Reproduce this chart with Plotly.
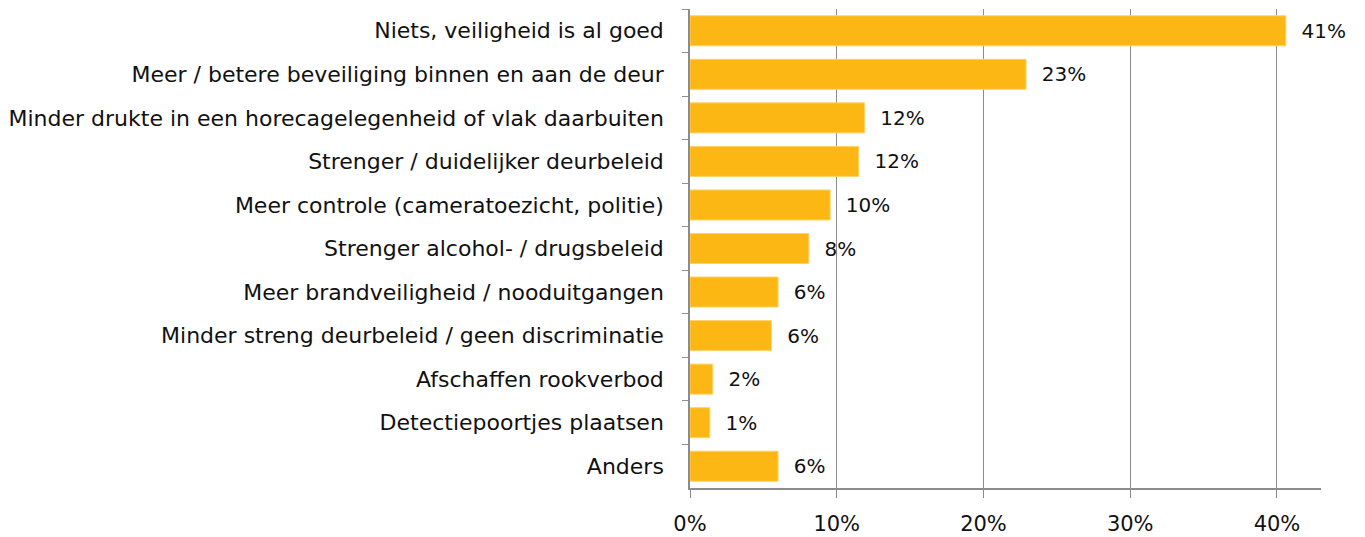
import plotly.graph_objects as go

# Antwoorden (van boven naar beneden) en aandeel respondenten
categories = [
    "Niets, veiligheid is al goed",
    "Meer / betere beveiliging binnen en aan de deur",
    "Minder drukte in een horecagelegenheid of vlak daarbuiten",
    "Strenger / duidelijker deurbeleid",
    "Meer controle (cameratoezicht, politie)",
    "Strenger alcohol- / drugsbeleid",
    "Meer brandveiligheid / nooduitgangen",
    "Minder streng deurbeleid / geen discriminatie",
    "Afschaffen rookverbod",
    "Detectiepoortjes plaatsen",
    "Anders",
]
shares = [0.406, 0.229, 0.119, 0.115, 0.0955, 0.081, 0.060, 0.0555, 0.0155, 0.0135, 0.060]

x_ticks = [0, 0.1, 0.2, 0.3, 0.4]
x_ticklabels = ["0%", "10%", "20%", "30%", "40%"]

FONT = "DejaVu Sans"
BAR_COLOR = "#FDB714"
AXIS_COLOR = "#8C8C8C"
TEXT_COLOR = "#111111"

fig = go.Figure()
fig.add_trace(
    go.Bar(
        x=shares,
        y=categories,
        orientation="h",
        marker=dict(color=BAR_COLOR, line=dict(color="#FFD36B", width=1)),
        texttemplate="\u00a0\u00a0%{x:.0%}",
        textposition="outside",
        constraintext="none",
        cliponaxis=False,
        textfont=dict(family=FONT, size=20, color=TEXT_COLOR),
        showlegend=False,
        hoverinfo="skip",
    )
)

# de pagina heeft 8px body-marge, daarom l/t iets kleiner
fig.update_layout(
    width=1365,
    height=537,
    margin=dict(l=680, r=52, t=1, b=57),
    plot_bgcolor="white",
    paper_bgcolor="white",
    bargap=0.31,
    font=dict(family=FONT, size=20, color=TEXT_COLOR),
)

fig.update_xaxes(
    range=[0, 0.43],
    tickvals=x_ticks,
    ticktext=x_ticklabels,
    showgrid=True,
    gridcolor=AXIS_COLOR,
    gridwidth=1,
    showline=True,
    linecolor=AXIS_COLOR,
    linewidth=1.5,
    ticks="outside",
    ticklen=8,
    tickcolor=AXIS_COLOR,
    ticklabelstandoff=8,
    zeroline=False,
    tickfont=dict(family=FONT, size=21, color=TEXT_COLOR),
)

fig.update_yaxes(
    autorange="reversed",
    showline=True,
    linecolor=AXIS_COLOR,
    linewidth=1.5,
    ticks="outside",
    ticklen=6,
    tickcolor=AXIS_COLOR,
    tickson="boundaries",
    ticklabelstandoff=20,
    showgrid=False,
    tickfont=dict(family=FONT, size=22, color=TEXT_COLOR),
)

fig.write_html("out.html")
